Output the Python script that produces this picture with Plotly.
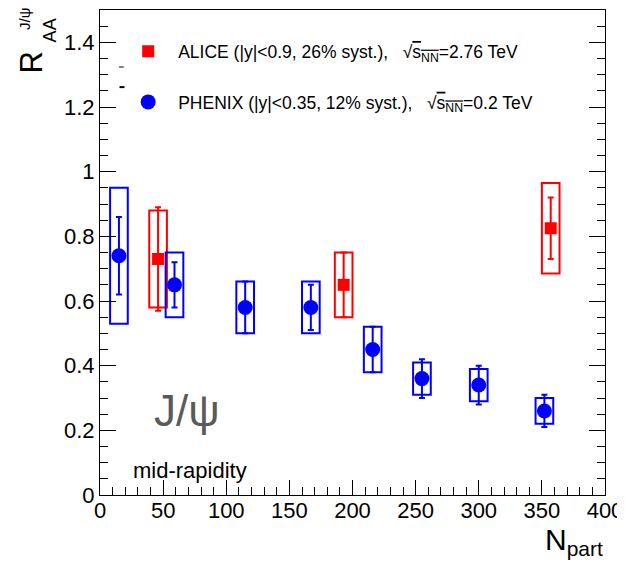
import plotly.graph_objects as go

# ---- data ----
alice_npart = [46, 193, 357]
alice_raa = [0.73, 0.65, 0.825]
alice_stat = [0.16, 0.10, 0.095]
alice_syst = [0.15, 0.10, 0.14]

phenix_npart = [15, 59, 115, 167, 216, 255, 300, 352]
phenix_raa = [0.74, 0.65, 0.58, 0.58, 0.45, 0.36, 0.34, 0.26]
phenix_stat = [0.12, 0.07, 0.08, 0.07, 0.07, 0.06, 0.06, 0.05]
phenix_syst = [0.21, 0.10, 0.08, 0.08, 0.07, 0.05, 0.05, 0.04]

box_halfwidth = 7

x_ticks = [0, 50, 100, 150, 200, 250, 300, 350, 400]
y_ticks = [0, 0.2, 0.4, 0.6, 0.8, 1.0, 1.2, 1.4]
y_ticklabels = ["0", "0.2", "0.4", "0.6", "0.8", "1", "1.2", "1.4"]

BLUE = "#0000ff"
RED = "#ff0000"
FONT = "Liberation Sans"

fig = go.Figure()

sqrt_s = "\u221a<span style='text-decoration:overline'>s<sub>NN</sub></span>"
sp = "\u00a0\u00a0\u00a0"

fig.add_trace(go.Scatter(
    x=alice_npart, y=alice_raa, mode="markers",
    marker=dict(symbol="square", size=12, color=RED),
    error_y=dict(type="data", array=alice_stat, color=RED, thickness=2, width=3),
    name="ALICE (|y|<0.9, 26% syst.)," + sp + sqrt_s + "=2.76 TeV",
    legendgroup="a",
))
fig.add_trace(go.Scatter(
    x=phenix_npart, y=phenix_raa, mode="markers",
    marker=dict(symbol="circle", size=15, color=BLUE),
    error_y=dict(type="data", array=phenix_stat, color=BLUE, thickness=2, width=3),
    name="PHENIX (|y|<0.35, 12% syst.)," + sp + sqrt_s + "=0.2 TeV",
    legendgroup="p",
))

# systematic boxes
shapes = []
for xs, ys, ss, col in [(alice_npart, alice_raa, alice_syst, RED),
                         (phenix_npart, phenix_raa, phenix_syst, BLUE)]:
    for xv, yv, sv in zip(xs, ys, ss):
        shapes.append(dict(type="rect", xref="x", yref="y",
                           x0=xv - box_halfwidth, x1=xv + box_halfwidth,
                           y0=yv - sv, y1=yv + sv,
                           line=dict(color=col, width=2), fillcolor="rgba(0,0,0,0)",
                           layer="below"))
# small stray legend dashes
shapes.append(dict(type="line", xref="paper", yref="paper", x0=0.0376, x1=0.047,
                   y0=0.8825, y1=0.8825, line=dict(color="black", width=1)))
shapes.append(dict(type="line", xref="paper", yref="paper", x0=0.0386, x1=0.0485,
                   y0=0.841, y1=0.841, line=dict(color="black", width=2)))

def ann(text, x, y, size, color="black", angle=0, xanchor="center", yanchor="middle"):
    return dict(text=text, x=x, y=y, xref="paper", yref="paper", textangle=angle,
                xanchor=xanchor, yanchor=yanchor, showarrow=False,
                font=dict(family=FONT, size=size, color=color))

annotations = [
    ann("R", -0.1356, 0.891, 31, angle=-90),
    ann("AA", -0.099, 0.958, 18, angle=-90),
    ann("J/\u03c8", -0.1485, 0.9815, 15, angle=-90),
    ann("N<sub>part</sub>", 1.0, -0.096, 30, xanchor="right"),
    ann("J/\u03c8", 0.172, 0.175, 44, color="#5a5a5a"),
    ann("mid-rapidity", 0.178, 0.0515, 22),
]

# page body has an 8px margin; size the figure so the frame lands where the reference has it
fig.update_layout(
    width=617, height=555,
    margin=dict(l=92, r=20, t=2, b=68, autoexpand=False),
    paper_bgcolor="white", plot_bgcolor="white",
    font=dict(family=FONT, size=22, color="black"),
    shapes=shapes, annotations=annotations,
    showlegend=True,
    legend=dict(x=0.036, y=0.952, xanchor="left", yanchor="top",
                bgcolor="rgba(0,0,0,0)", font=dict(family=FONT, size=17.5),
                tracegroupgap=25, traceorder="grouped", itemwidth=50),
)
fig.update_xaxes(range=[0, 400], tickvals=x_ticks, ticks="inside", ticklen=15,
                 tickcolor="black", showline=True, linecolor="black", linewidth=1,
                 mirror=True, showgrid=False, zeroline=False, ticklabelstandoff=-4,
                 tickfont=dict(family=FONT, size=22),
                 minor=dict(dtick=10, ticks="inside", ticklen=8, tickcolor="black", showgrid=False))
fig.update_yaxes(range=[0, 1.5], tickvals=y_ticks, ticktext=y_ticklabels,
                 ticks="inside", ticklen=16,
                 tickcolor="black", showline=True, linecolor="black", linewidth=1,
                 mirror="ticks", showgrid=False, zeroline=False,
                 tickfont=dict(family=FONT, size=22),
                 minor=dict(dtick=0.05, ticks="inside", ticklen=8, tickcolor="black", showgrid=False))

fig.write_html("out.html")
